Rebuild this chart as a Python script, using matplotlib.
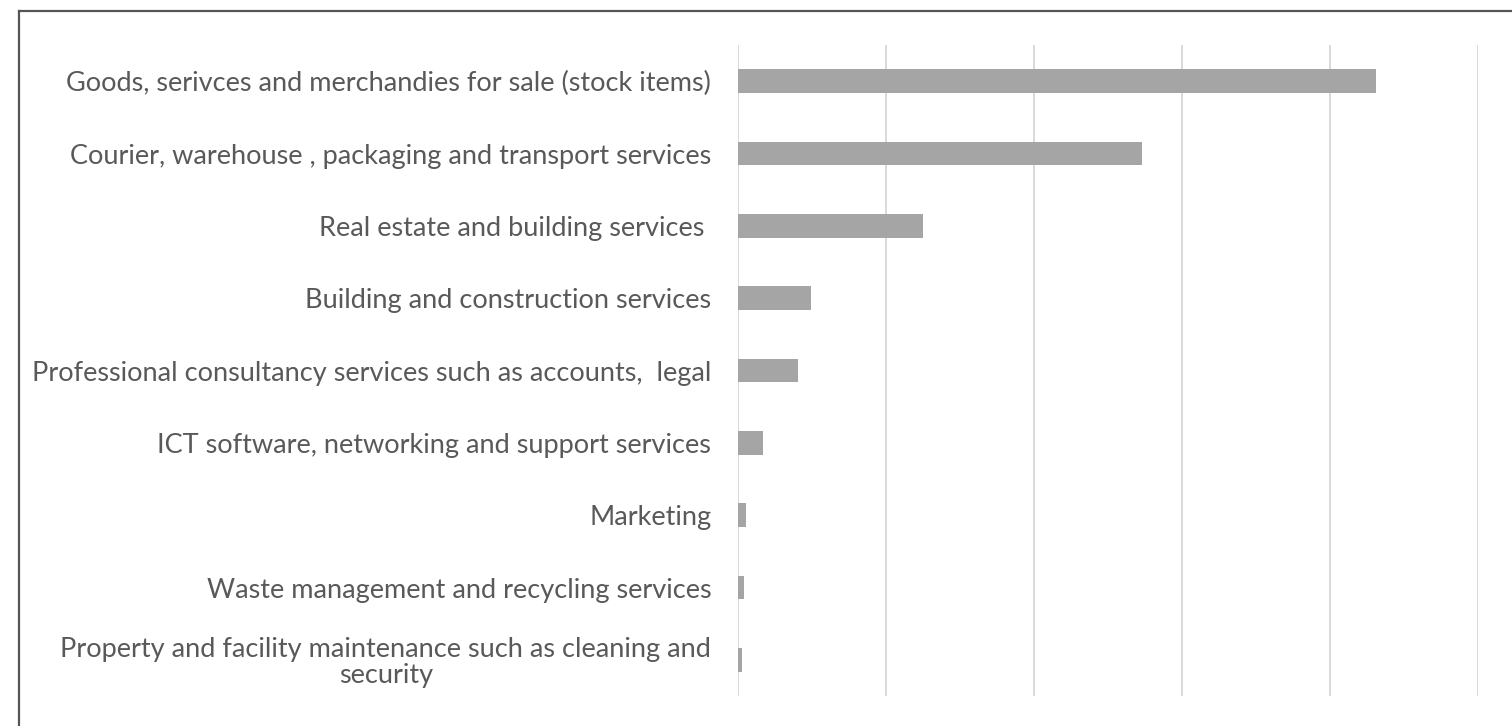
import matplotlib
matplotlib.use("Agg")
import matplotlib.pyplot as plt
from matplotlib.lines import Line2D

categorias = [
    "Goods, serivces and merchandies for sale (stock items)",
    "Courier, warehouse , packaging and transport services",
    "Real estate and building services ",
    "Building and construction services",
    "Professional consultancy services such as accounts,  legal",
    "ICT software, networking and support services",
    "Marketing",
    "Waste management and recycling services",
    "Property and facility maintenance such as cleaning and\nsecurity",
]
valores = [43.1, 27.3, 12.5, 4.95, 4.07, 1.71, 0.59, 0.45, 0.3]
grade_x = [0, 10, 20, 30, 40, 50]

cor_barra = "#a5a5a5"
cor_texto = "#595959"
cor_grade = "#d9d9d9"

fig = plt.figure(figsize=(15.12, 7.26), dpi=100)
ax = fig.add_axes([0.4879, 0.0413, 0.4894, 0.8967])

pos = list(range(len(categorias)))
ax.barh(pos, valores, height=0.33, color=cor_barra, zorder=3)
ax.set_ylim(len(categorias) - 0.5, -0.5)
ax.set_xlim(grade_x[0], grade_x[-1])

ax.set_xticks(grade_x)
ax.set_xticklabels([])
ax.grid(axis="x", color=cor_grade, linewidth=1.4, zorder=0)
ax.tick_params(axis="x", length=0)

ax.set_yticks(pos)
ax.set_yticklabels(categorias, fontsize=19.5, color=cor_texto, family="Lato")
for lbl in ax.get_yticklabels():
    lbl.set_multialignment("center")
    lbl.set_linespacing(1.05)
ax.tick_params(axis="y", length=0, pad=19)

for lado in ax.spines.values():
    lado.set_visible(False)

# moldura escura (só topo e esquerda aparecem no recorte)
fig.add_artist(Line2D([19 / 1512, 19 / 1512], [0, 1 - 11 / 726],
                      transform=fig.transFigure, color="#555555", linewidth=1.6))
fig.add_artist(Line2D([19 / 1512, 1], [1 - 11 / 726, 1 - 11 / 726],
                      transform=fig.transFigure, color="#555555", linewidth=1.6))

fig.savefig("out.png", dpi=100)
